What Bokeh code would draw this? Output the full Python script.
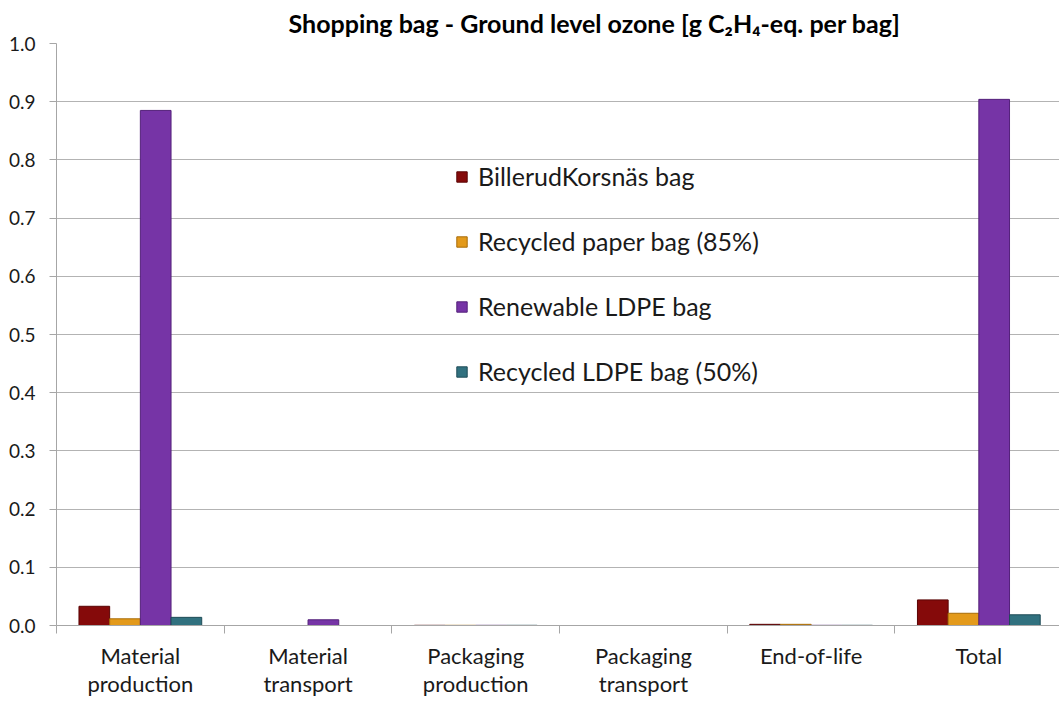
from bokeh.plotting import figure
from bokeh.models import (ColumnDataSource, FixedTicker, Range1d, Legend, LegendItem, Title)
from bokeh.embed import file_html
from bokeh.resources import INLINE

categories = ["Material\nproduction", "Material\ntransport", "Packaging\nproduction",
              "Packaging\ntransport", "End-of-life", "Total"]
series_names = ["BillerudKorsnäs bag", "Recycled paper bag (85%)",
                "Renewable LDPE bag", "Recycled LDPE bag (50%)"]
billerud = [0.033, 0.0, 0.0003, 0.0, 0.002, 0.044]
recycled_paper = [0.0115, 0.0, 0.0003, 0.0, 0.002, 0.021]
renewable_ldpe = [0.885, 0.0098, 0.0003, 0.0, 0.0003, 0.904]
recycled_ldpe = [0.014, 0.0, 0.0003, 0.0, 0.0003, 0.0184]
y_ticks = [0.0, 0.1, 0.2, 0.3, 0.4, 0.5, 0.6, 0.7, 0.8, 0.9, 1.0]

values = [billerud, recycled_paper, renewable_ldpe, recycled_ldpe]
fills = ["#850A0A", "#E39A1B", "#7634A6", "#31717F"]
lines = ["#5a0404", "#a86c08", "#54217a", "#1f4c57"]

FONT = "Lato"
p = figure(frame_width=1003, frame_height=582, output_backend="svg", toolbar_location=None,
           x_range=Range1d(0, 5.981), y_range=Range1d(0, 1.0),
           min_border_left=56, min_border_right=0, min_border_top=43, min_border_bottom=77,
           title=None)
p.outline_line_color = None
p.background_fill_color = "white"
p.border_fill_color = "white"

bw = 0.183
offsets = [-1.5 * bw, -0.5 * bw, 0.5 * bw, 1.5 * bw]
items = []
for name, vals, fc, lc, off in zip(series_names, values, fills, lines, offsets):
    src = ColumnDataSource(dict(x=[i + 0.5 + off for i in range(len(categories))], top=vals))
    r = p.vbar(x="x", top="top", width=bw, source=src, fill_color=fc, line_color=lc, line_width=1)
    items.append(LegendItem(label=name, renderers=[r]))

# x axis: labels at category centers, ticks at category boundaries
xa = p.xaxis[0]
xa.ticker = FixedTicker(ticks=[i + 0.5 for i in range(len(categories))],
                        minor_ticks=list(range(len(categories) + 1)))
xa.major_label_overrides = {i + 0.5: c for i, c in enumerate(categories)}
xa.major_tick_line_color = None
xa.minor_tick_out = 8
xa.minor_tick_in = 0
xa.minor_tick_line_color = "#a6a6a6"
xa.axis_line_color = "#a6a6a6"
xa.major_label_text_font = FONT
xa.major_label_text_font_size = "22px"
xa.major_label_text_line_height = 1.05
xa.major_label_text_color = "#1a1a1a"
xa.major_label_standoff = 8

ya = p.yaxis[0]
ya.ticker = FixedTicker(ticks=y_ticks, minor_ticks=[])
ya.major_label_overrides = {t: f"{t:.1f}" for t in y_ticks}
ya.major_tick_out = 7
ya.major_tick_in = 0
ya.major_tick_line_color = "#a6a6a6"
ya.axis_line_color = "#a6a6a6"
ya.minor_tick_line_color = None
ya.major_label_text_font = FONT
ya.major_label_text_font_size = "19px"
ya.major_label_text_color = "#1a1a1a"
ya.major_label_standoff = 14

p.xgrid.grid_line_color = None
p.ygrid.grid_line_color = "#b3b3b3"
p.ygrid.ticker = FixedTicker(ticks=y_ticks)

legend = Legend(items=items, location=(399, 239), padding=0, margin=0,
                spacing=35, glyph_width=13, glyph_height=13, label_height=30,
                label_standoff=10, label_text_font=FONT, label_text_font_size="25px",
                label_text_color="#1a1a1a", border_line_alpha=0, background_fill_alpha=0)
p.add_layout(legend, "center")

title = Title(text="Shopping bag - Ground level ozone [g C₂H₄-eq. per bag]",
              text_font=FONT, text_font_size="25px", text_font_style="bold",
              text_color="#000000", align="left", offset=232, standoff=11)
p.add_layout(title, "above")

open("out.html", "w").write(file_html(p, INLINE))
